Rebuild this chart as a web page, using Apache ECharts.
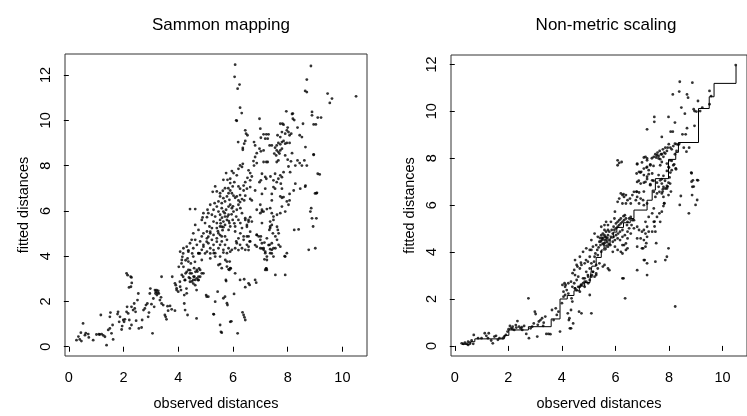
<!DOCTYPE html>
<html><head><meta charset="utf-8">
<script src="https://cdn.jsdelivr.net/npm/echarts@6/dist/echarts.min.js"></script>
<style>html,body{margin:0;padding:0;background:#fff}#c{width:747px;height:416px}</style>
</head><body><div id="c"></div>
<script>
// Sammon mapping: [observed distance, fitted distance]
const sammonLow = [[0.28,0.29],[0.40,0.32],[0.46,0.25],[0.52,1.03],[0.44,0.62],[0.59,0.51],[0.71,0.56],[0.73,0.41],[0.89,0.29],[1.01,0.54],[1.13,0.54],[1.17,1.4],[1.2,0.56],[1.26,0.5],[1.32,0.44],[1.38,0.07],[1.44,0.74],[1.5,0.81],[1.56,0.59],[1.62,0.32],[1.5,1.32],[1.52,1.51],[1.6,0.96],[1.78,1.44],[1.8,1.54],[1.84,1.1],[1.87,1.32],[1.93,0.76],[1.95,0.91],[1.99,1.18],[2.02,1.1],[2.05,1.21],[2.11,1.54],[2.13,1.76],[2.17,1.47],[2.21,1.18],[2.23,0.81],[2.29,0.96],[2.29,1.76],[2.35,1.62],[2.39,1.91],[2.41,1.69],[2.44,1.54],[2.46,1.15],[2.51,2.06],[2.54,2.35],[2.56,0.81],[2.66,0.85],[2.68,1.18],[2.73,1.62],[2.78,1.69],[2.82,1.84],[2.87,1.91],[2.9,1.32],[2.93,1.51],[2.96,2.35],[2.98,2.57],[3.02,1.88],[3.06,0.59],[3.09,2.13],[3.12,1.76],[3.15,2.5],[3.17,2.35],[3.18,2.43],[3.21,2.5],[3.22,2.28],[3.24,2.38],[3.27,2.47],[3.29,2.35],[3.33,2.06],[3.37,2.18],[3.39,3.09],[3.39,1.91],[3.45,1.84],[3.51,1.4],[3.54,1.32],[3.57,1.21],[3.61,1.79],[3.63,1.59],[3.76,1.65],[3.78,3.09],[3.88,1.59],[3.91,2.72],[3.94,2.5],[4.0,2.43],[4.02,3.53],[4.06,2.87],[4.1,2.5],[4.12,3.68],[4.15,3.97],[4.18,4.12],[4.18,3.09],[4.22,2.28],[4.22,1.91],[4.24,2.94],[4.27,3.24],[4.27,3.82],[4.3,2.57],[4.34,3.9],[4.34,1.4],[4.37,4.26],[4.39,3.06],[4.43,3.38],[4.43,2.87],[4.46,3.68],[4.49,3.24],[4.51,4.12],[4.55,2.79],[4.59,3.09],[4.61,3.75],[4.63,3.31],[4.67,1.25],[4.67,2.5],[4.73,2.94],[4.76,3.46],[4.79,4.12],[2.11,3.24],[2.15,3.16],[2.26,3.09],[2.29,3.06],[2.3,2.82],[2.27,2.65],[2.2,2.62],[0.35,0.45],[0.62,0.6],[1.1,0.55],[3.7,1.8],[4.25,1.62],[4.31,2.36]];
const sammonMid = [[4.62,2.72],[4.74,2.95],[4.8,3.09],[4.86,3.24],[4.43,3.02],[4.31,3.31],[4.13,3.17],[4.25,2.95],[4.37,3.39],[4.55,2.95],[4.68,3.39],[4.07,2.65],[3.88,2.8],[3.94,2.58],[4.19,3.53],[4.13,3.83],[4.37,3.76],[4.55,3.98],[4.74,4.12],[4.92,4.42],[5.04,4.64],[5.1,4.86],[5.17,5.08],[4.86,3.83],[4.98,4.12],[5.17,4.12],[5.29,4.27],[5.41,4.64],[5.53,4.93],[5.59,5.3],[5.04,2.21],[5.3,1.43],[5.35,1.99],[5.44,2.43],[5.53,0.96],[5.59,0.62],[5.56,0.66],[5.65,2.14],[5.71,2.21],[5.78,1.92],[5.8,1.84],[5.9,1.1],[5.94,1.12],[6.04,2.33],[6.17,0.59],[6.35,1.52],[6.39,1.4],[6.42,1.3],[6.45,1.18],[6.26,2.95],[6.41,2.98],[6.45,2.63],[6.57,2.8],[6.61,2.73],[6.81,2.95],[6.85,2.83],[7.55,3.17],[5.75,2.9],[6.08,3.24],[7.18,3.39],[7.24,3.39],[7.21,3.45],[5.02,2.28],[5.1,2.21],[4.43,3.24],[4.56,3.1],[4.62,2.95],[4.68,3.02],[4.74,3.1],[4.5,2.88],[4.7,3.32],[4.8,3.39],[4.58,3.47],[4.92,3.24],[5.17,3.9],[5.3,4.13],[5.35,3.98],[5.47,3.61],[5.53,3.98],[5.65,4.28],[5.59,3.47],[5.78,3.54],[5.88,3.76],[5.72,3.83],[5.9,3.47],[5.84,3.42],[5.78,4.13],[5.96,4.28],[6.08,4.35],[6.26,4.5],[6.39,4.72],[6.51,4.87],[6.61,4.65],[6.45,4.28],[6.57,4.42],[6.14,4.57],[6.87,4.94],[6.94,4.87],[7.0,4.72],[7.06,4.57],[7.12,4.35],[7.18,4.13],[7.24,3.98],[7.36,4.13],[7.42,4.28],[7.24,3.83],[7.55,4.35],[7.36,5.31],[7.33,5.16],[7.46,5.01],[7.55,4.87],[7.64,5.16],[7.67,5.01],[7.61,4.72],[7.91,3.98],[8.24,5.16],[8.4,5.18],[8.77,4.28],[9.01,4.35],[8.83,5.97],[8.89,5.67],[9.05,5.67],[8.93,5.31],[8.86,6.12],[6.87,6.05],[7.0,5.9],[7.06,5.97],[5.92,3.46],[5.87,3.39],[5.74,2.95],[5.78,3.76],[5.53,3.65],[6.2,4.27],[6.57,4.27],[6.81,4.49],[6.51,5.3],[6.57,5.52],[6.63,5.08],[6.45,5.6],[7.15,4.6],[7.06,4.34],[7.18,4.2],[7.15,3.86],[7.22,3.46],[7.3,4.49],[7.42,4.12],[7.48,3.98],[7.61,5.3],[7.89,4.0],[7.91,3.17],[5.29,1.44]];
const sammonCore = [[5.75,7.67],[5.65,7.37],[5.8,7.37],[5.9,7.23],[5.83,7.0],[5.71,7.0],[5.63,6.89],[5.53,6.78],[5.41,6.86],[5.35,7.08],[5.26,6.84],[5.53,6.64],[5.65,6.56],[5.78,6.64],[5.84,6.78],[5.87,6.49],[5.71,6.42],[5.59,6.34],[5.47,6.42],[5.41,6.19],[5.33,6.34],[5.17,6.27],[5.29,6.05],[5.47,5.97],[5.59,6.12],[5.65,5.97],[5.75,6.05],[5.84,6.19],[5.9,6.27],[5.07,6.05],[5.1,5.9],[4.92,5.9],[5.23,5.83],[5.35,5.75],[5.53,5.83],[5.71,5.75],[5.84,5.83],[5.53,5.6],[5.65,5.53],[5.78,5.6],[5.87,5.46],[5.41,5.46],[5.29,5.53],[4.86,5.6],[4.98,5.46],[5.14,5.31],[5.23,5.24],[5.41,5.24],[5.53,5.31],[5.65,5.28],[5.71,5.38],[5.84,5.16],[5.9,5.31],[4.62,5.38],[5.05,5.09],[4.92,5.01],[4.74,5.16],[4.55,5.01],[5.17,5.01],[5.29,4.94],[5.47,5.01],[5.59,4.87],[5.71,4.87],[5.78,4.72],[5.59,4.65],[5.41,4.79],[5.23,4.72],[5.05,4.79],[4.86,4.87],[4.8,4.65],[4.62,4.72],[4.49,4.72],[4.43,4.57],[4.68,4.5],[4.92,4.5],[5.1,4.57],[5.29,4.5],[5.53,4.5],[5.71,4.5],[5.84,4.35],[5.47,4.35],[5.17,4.35],[4.86,4.28],[4.55,4.35],[4.31,4.42],[4.19,4.35],[4.37,4.2],[4.74,4.13],[5.05,4.2],[5.35,4.13],[5.65,4.16],[5.9,4.2],[4.07,4.2],[4.43,6.08],[4.62,6.08],[4.89,5.71],[5.05,5.72],[5.96,6.12],[6.02,5.97],[6.14,6.05],[6.27,6.12],[6.2,6.27],[6.33,5.9],[6.12,5.75],[5.99,5.6],[6.2,5.6],[6.27,5.46],[6.08,5.31],[6.33,5.24],[6.45,5.68],[6.57,5.6],[6.63,5.72],[6.69,5.53],[6.51,5.38],[6.08,5.09],[6.27,5.01],[6.39,4.87],[6.57,4.87],[6.2,4.79],[6.12,4.65],[6.63,4.65],[7.0,6.27],[7.06,6.05],[7.12,5.97],[7.24,6.08],[7.36,6.12],[7.42,5.9],[7.48,5.75],[7.61,5.83],[7.73,5.9],[7.79,6.19],[7.91,5.97],[7.97,6.42],[8.03,6.27],[7.06,5.46],[7.36,5.53],[7.42,5.38],[7.48,5.6],[7.36,5.24],[6.87,4.94],[7.02,4.87],[7.24,4.79],[7.34,4.5],[7.42,4.57],[7.48,4.35],[7.67,4.5],[7.73,4.42],[6.33,4.35],[6.51,4.5],[6.87,4.42],[7.0,4.35],[7.12,4.28],[7.36,4.31],[7.97,4.13],[5.6,5.7],[5.7,5.9],[5.8,5.75],[5.95,5.85],[6.0,6.2],[5.55,5.45],[5.62,5.15],[5.45,5.1],[5.85,5.55],[6.05,5.45]];
const sammonHigh = [[6.08,12.46],[6.06,11.92],[6.24,11.58],[6.17,11.4],[6.26,10.56],[6.32,10.32],[6.12,10.0],[6.14,9.98],[8.85,12.4],[8.7,11.8],[8.64,11.3],[8.7,11.25],[9.46,11.18],[9.62,10.96],[9.54,10.77],[10.5,11.06],[8.89,10.37],[8.89,10.22],[9.1,10.12],[9.22,10.12],[8.95,9.82],[9.03,9.82],[8.19,10.3],[7.95,10.4],[8.19,10.07],[8.56,9.85],[6.97,10.07],[7.73,9.85],[7.81,9.85],[7.85,9.81],[8.0,9.68],[7.97,9.56],[7.91,9.41],[7.79,9.48],[7.63,9.34],[7.73,9.26],[8.03,9.48],[8.07,9.34],[8.13,9.41],[8.36,9.68],[8.44,9.34],[8.52,9.26],[7.0,9.63],[6.45,9.56],[6.48,9.41],[6.53,9.34],[7.12,9.38],[7.22,9.38],[7.3,9.38],[7.02,9.23],[7.18,9.19],[7.27,9.19],[6.19,9.04],[6.45,9.09],[6.41,8.97],[6.36,8.78],[6.36,8.7],[6.77,9.04],[6.81,8.89],[7.34,8.89],[7.42,8.89],[7.54,8.79],[7.6,8.89],[7.66,9.0],[7.73,8.94],[7.79,9.04],[7.85,9.09],[7.91,8.97],[7.97,9.0],[8.07,9.0],[7.6,8.67],[7.66,8.6],[7.73,8.67],[7.79,8.75],[7.7,8.53],[7.58,8.45],[7.51,8.53],[8.65,8.82],[8.95,8.5],[6.97,8.75],[7.02,8.63],[7.12,8.67],[6.87,8.55],[6.81,8.38],[6.75,8.2],[6.87,8.11],[6.77,8.0],[7.12,8.16],[7.22,8.16],[7.27,8.16],[7.6,8.16],[7.66,8.23],[7.91,8.45],[8.0,8.26],[8.16,8.55],[8.12,8.19],[8.36,8.23],[8.44,8.11],[8.28,8.0],[8.61,8.23],[8.52,8.0],[8.7,8.0],[9.1,7.64],[9.17,7.61],[9.07,6.8],[6.36,8.08],[6.33,7.94],[6.26,8.01],[6.2,7.86],[5.96,7.76],[6.02,7.67],[5.9,7.42],[6.57,7.79],[6.63,7.67],[6.69,7.52],[6.63,7.35],[6.53,7.46],[6.45,7.27],[6.39,7.12],[6.14,7.57],[6.05,7.27],[5.99,7.08],[6.2,7.08],[6.26,6.98],[6.39,6.9],[6.51,6.98],[6.63,7.05],[6.81,6.9],[6.97,7.27],[7.06,7.64],[7.02,7.35],[7.18,7.5],[7.22,7.42],[7.37,7.52],[7.48,7.35],[7.54,7.64],[7.66,7.42],[7.73,7.57],[7.79,7.49],[7.85,7.71],[8.03,7.96],[8.09,7.71],[7.6,7.27],[7.75,7.2],[7.48,7.05],[7.54,6.98],[7.18,6.98],[7.06,6.75],[7.42,6.75],[7.79,6.98],[7.73,6.64],[7.79,6.58],[7.85,6.61],[8.07,6.75],[8.22,6.9],[8.28,7.2],[8.46,6.98],[8.65,7.12],[5.9,6.9],[5.96,6.78],[6.02,6.67],[6.08,6.58],[6.14,6.64],[6.2,6.46],[6.33,6.52],[6.41,6.46],[6.26,6.39],[6.45,6.67],[6.63,6.53],[6.69,6.46],[7.42,6.46],[8.07,6.46],[9.05,6.78],[6.26,6.7],[8.95,8.47],[9.0,6.77],[8.64,7.07],[8.24,10.01],[8.16,10.28]];

// Non-metric scaling: [observed distance, fitted distance]
const nmdsLow = [[0.26,0.11],[0.32,0.09],[0.38,0.14],[0.44,0.09],[0.5,0.04],[0.5,0.18],[0.56,0.14],[0.63,0.23],[0.69,0.09],[0.71,0.47],[0.87,0.33],[1.0,0.33],[1.12,0.54],[1.18,0.43],[1.24,0.33],[1.27,0.54],[1.36,0.23],[1.42,0.11],[1.48,0.4],[1.54,0.43],[1.61,0.26],[1.67,0.33],[1.79,0.33],[1.85,0.4],[1.91,0.47],[1.97,0.61],[2.01,0.71],[2.06,0.85],[2.1,0.75],[2.16,0.82],[2.22,0.68],[2.28,0.89],[2.34,1.06],[2.4,0.82],[2.46,0.75],[2.52,0.68],[2.59,0.85],[2.67,0.51],[2.75,2.03],[2.77,0.33],[2.83,0.75],[2.89,0.82],[2.95,0.96],[2.99,1.46],[3.02,1.36],[3.08,0.4],[3.14,1.04],[3.2,1.1],[3.26,1.18],[3.32,0.99],[3.38,1.25],[3.42,0.51],[3.5,0.51],[3.57,0.5],[3.63,1.53],[3.69,1.1],[3.77,1.6],[3.81,1.32],[3.87,1.46],[3.93,0.61],[4.0,1.82],[4.06,2.1],[4.12,2.17],[4.14,2.6],[4.18,2.38],[4.22,1.39],[4.24,2.23],[4.26,1.1],[4.3,0.75],[4.34,1.53],[4.36,2.03],[4.39,1.89],[4.42,0.96],[4.46,2.67],[4.49,3.02],[4.55,2.81],[4.61,2.95],[4.64,1.46],[4.67,2.52],[4.73,1.39],[4.79,2.88],[4.85,2.74],[4.91,3.16],[4.98,2.67],[5.04,2.17],[5.1,1.39],[5.12,3.02],[5.16,3.16],[5.22,2.95],[5.28,3.09],[4.02,2.6],[4.12,2.52],[4.24,2.67],[4.34,2.74],[4.39,2.52],[4.55,2.38],[4.67,2.31],[4.73,2.6],[4.85,2.52],[4.98,2.95],[5.04,2.81],[4.49,2.45],[4.06,2.31],[2.15,0.72],[2.3,0.78],[2.5,0.8],[3.1,0.9],[3.3,0.85],[4.1,2.67],[4.4,3.1],[4.46,3.24],[4.58,3.38],[4.71,3.55],[4.34,0.75],[4.28,1.18],[6.36,2.03],[8.23,1.68],[6.3,2.88]];
const nmdsMid = [[5.53,4.79],[5.59,4.72],[5.53,4.58],[5.65,4.62],[5.72,4.72],[5.59,4.51],[5.69,4.44],[5.77,4.51],[5.83,4.65],[5.9,4.79],[5.96,4.94],[6.02,5.01],[6.08,5.08],[6.14,5.15],[6.2,5.22],[6.26,5.29],[6.32,5.36],[6.39,5.43],[6.45,5.29],[6.51,5.43],[6.57,5.5],[6.63,5.36],[6.2,5.43],[6.3,5.53],[6.35,5.57],[6.08,5.29],[6.14,5.36],[6.02,5.22],[5.93,5.08],[5.86,4.94],[5.77,4.87],[5.72,4.94],[5.65,4.87],[5.59,4.94],[5.47,4.72],[5.49,4.51],[5.56,4.37],[5.4,4.44],[5.44,4.3],[5.37,4.2],[5.32,4.09],[5.28,4.3],[5.25,3.94],[5.22,3.8],[5.34,3.87],[5.47,4.01],[5.59,4.16],[5.72,4.23],[5.81,4.3],[5.9,4.44],[5.98,4.51],[6.08,4.58],[6.17,4.51],[6.26,4.65],[6.35,4.72],[6.45,4.87],[6.51,5.01],[6.6,5.15],[6.69,5.36],[6.43,5.15],[6.26,4.94],[6.17,4.87],[6.1,4.79],[6.02,4.72],[5.93,4.65],[5.72,5.15],[5.59,5.15],[5.65,5.29],[5.96,5.43],[5.83,5.29],[5.1,4.09],[5.16,4.23],[5.04,3.8],[4.97,3.59],[5.1,3.52],[5.2,3.59],[5.28,3.45],[5.34,3.3],[5.4,3.52],[5.53,3.38],[5.59,3.45],[5.72,3.3],[5.77,3.23],[5.04,3.3],[5.16,3.16],[5.28,3.02],[5.1,2.95],[4.97,3.02],[4.85,2.88],[4.91,2.74],[4.79,2.67],[4.71,2.6],[4.61,2.52],[4.49,2.45],[5.04,4.09],[4.9,3.66],[4.85,3.52],[4.73,3.45],[4.67,3.3],[4.55,3.45],[4.49,3.66],[4.67,3.8],[4.79,4.01],[4.91,4.16],[5.98,4.23],[6.08,4.09],[6.2,4.01],[5.9,4.01],[6.26,4.3],[6.39,4.37],[6.45,4.16],[5.34,4.65],[5.22,4.79],[5.1,4.51],[5.47,5.08],[5.5,4.6],[5.62,4.4],[5.7,4.6],[5.45,4.45],[5.58,4.28],[5.66,4.52],[5.75,4.35],[5.52,4.35],[5.6,4.65],[5.42,4.6]];
const nmdsHigh = [[6.08,7.91],[6.14,7.8],[6.23,7.84],[6.08,7.7],[7.12,8.06],[7.18,7.99],[7.43,8.06],[7.55,8.13],[7.61,7.99],[7.7,8.17],[7.79,8.06],[7.86,8.2],[7.73,7.84],[7.67,7.7],[7.92,7.77],[7.98,7.63],[8.04,7.91],[8.1,7.49],[8.16,7.7],[6.81,7.77],[6.79,7.35],[6.88,7.42],[6.96,7.42],[7.06,7.56],[7.18,7.63],[7.24,7.49],[7.3,7.7],[7.37,7.35],[7.06,7.28],[7.18,7.21],[7.12,6.99],[6.94,6.92],[6.81,6.99],[7.37,7.06],[7.61,7.28],[7.67,7.06],[7.73,6.92],[7.79,6.78],[7.86,6.71],[7.61,6.78],[7.55,6.5],[7.64,6.57],[7.73,6.5],[7.79,6.35],[7.82,6.07],[7.92,6.71],[7.98,6.43],[8.04,6.92],[7.3,6.85],[7.43,6.57],[7.49,6.35],[6.2,6.5],[6.26,6.43],[6.32,6.35],[6.39,6.43],[6.14,6.28],[6.45,6.21],[6.54,6.28],[6.63,6.43],[6.69,6.57],[6.79,6.57],[6.81,6.35],[6.94,6.28],[7.03,6.21],[6.88,6.07],[6.76,6.21],[7.06,6.0],[7.18,6.07],[6.57,6.07],[6.39,6.07],[6.26,6.07],[6.08,6.14],[5.98,5.72],[7.43,5.86],[7.37,5.65],[7.24,5.5],[7.12,5.29],[7.18,5.08],[7.06,4.94],[6.99,4.87],[7.12,4.79],[7.24,4.87],[7.18,4.65],[7.37,4.87],[7.49,4.87],[7.43,5.29],[7.55,5.5],[7.67,5.29],[7.73,5.72],[7.79,5.96],[6.81,5.08],[6.88,4.94],[6.69,5.01],[6.57,4.79],[6.45,4.58],[6.81,4.58],[6.94,4.58],[7.06,4.51],[6.81,4.23],[6.99,4.16],[7.12,4.23],[6.26,3.94],[6.39,4.09],[6.32,4.3],[7.06,3.66],[7.18,3.52],[6.81,3.23],[7.18,3.02],[7.49,3.59],[7.86,3.66],[7.92,3.8],[7.98,4.16],[6.26,2.88],[7.15,4.38],[7.03,4.16],[7.09,3.66],[7.52,4.38],[7.46,5.3],[7.46,5.09],[7.64,5.65],[7.82,6.08],[7.76,6.58],[8.07,6.58],[7.95,6.79],[8.25,7.57],[8.84,7.36],[8.84,7.0],[9.05,7.07],[8.92,6.79],[8.86,6.43],[9.05,6.22],[8.99,6.01],[8.44,6.39],[8.4,6.01],[8.74,5.65],[6.3,6.47],[6.79,6.58],[6.88,6.54],[7.06,6.58],[7.18,9.23],[7.45,9.76],[7.45,9.55],[7.98,9.76],[7.73,8.91],[8.22,9.52],[8.06,9.13],[8.14,9.13],[8.5,9.02],[8.62,9.02],[8.67,9.28],[8.95,9.38],[8.4,11.26],[8.87,11.22],[8.14,10.72],[8.38,10.84],[8.67,10.72],[8.71,10.58],[8.59,9.9],[8.46,10.16],[9.08,10.44],[8.92,10.09],[8.95,10.01],[9.02,9.99],[9.24,10.16],[9.16,10.01],[9.51,10.87],[9.57,10.65],[9.51,10.3],[10.49,11.97],[6.81,7.74],[6.99,7.82],[7.06,8.03],[7.18,7.91],[7.16,7.6],[7.3,7.74],[7.36,8.0],[7.42,7.67],[7.49,8.17],[7.52,8.03],[7.57,8.24],[7.61,8.1],[7.65,8.31],[7.67,7.96],[7.73,8.17],[7.77,8.38],[7.82,8.24],[7.86,8.45],[7.92,8.31],[7.95,8.45],[7.99,8.6],[8.05,8.45],[8.1,8.38],[8.16,8.52],[8.22,8.62],[8.28,8.6],[8.35,8.57],[8.38,8.62],[8.28,8.31],[8.22,8.17],[8.19,7.74],[8.26,7.53],[8.1,7.89],[8.0,7.6],[7.92,7.46],[8.05,7.39],[7.98,6.96],[8.02,7.18],[7.79,7.25],[7.73,7.11],[7.85,7.04],[7.92,6.82],[7.77,6.68],[7.55,6.96],[7.42,7.04],[7.3,6.89],[7.24,7.32],[7.18,7.11],[6.93,7.39],[6.87,7.04],[7.06,6.96],[8.83,7.39],[8.89,7.06],[9.08,7.06],[8.87,6.78],[8.55,8.45],[8.65,8.28],[8.75,8.45]];

// isotonic regression step levels: [x where level starts, fitted level]
const nmdsStep = [[0.27,0.07],[0.6,0.18],[0.75,0.3],[1.85,0.45],[2.02,0.68],[2.75,0.82],[3.6,1.15],[3.93,2.0],[4.2,2.15],[4.45,2.35],[4.65,2.55],[4.85,2.7],[5.05,2.85],[5.12,3.4],[5.28,3.77],[5.47,4.09],[5.65,4.3],[5.8,4.6],[5.92,4.85],[6.05,5.05],[6.3,5.25],[6.55,5.43],[6.69,5.79],[7.18,6.21],[7.37,6.64],[7.49,7.13],[7.98,7.95],[8.25,8.25],[8.35,8.67],[9.1,10.12],[9.5,10.62],[9.68,11.19],[10.5,11.95]];

const xTicks = [0,2,4,6,8,10];
const yTicks = [0,2,4,6,8,10,12];

const FONT = "'Liberation Sans', Arial, sans-serif";
function xAx(gi, min, max){
  return {gridIndex:gi, type:'value', min:min, max:max,
    name:'observed distances', nameLocation:'middle', nameGap:40,
    nameTextStyle:{fontFamily:FONT, fontSize:14.5, color:'#000'},
    axisLine:{show:false}, splitLine:{show:false},
    axisTick:{show:true, length:5, customValues:xTicks, lineStyle:{color:'#000'}},
    axisLabel:{customValues:xTicks, fontFamily:FONT, fontSize:14.5, color:'#000', margin:14}};
}
function yAx(gi, min, max){
  return {gridIndex:gi, type:'value', min:min, max:max,
    name:'fitted distances', nameLocation:'middle', nameGap:34, nameRotate:90,
    nameTextStyle:{fontFamily:FONT, fontSize:14.5, color:'#000'},
    axisLine:{show:false}, splitLine:{show:false},
    axisTick:{show:true, length:5, customValues:yTicks, lineStyle:{color:'#000'}},
    axisLabel:{customValues:yTicks, rotate:90, fontFamily:FONT, fontSize:14.5, color:'#000', margin:12}};
}
const chart = echarts.init(document.getElementById('c'), null, {renderer:'canvas'});
chart.setOption({
  animation:false,
  backgroundColor:'#fff',
  title:[
    {text:'Sammon mapping', left:216, top:12, textAlign:'center', textStyle:{fontFamily:FONT, fontSize:17, fontWeight:'normal', color:'#000'}},
    {text:'Non-metric scaling', left:601, top:12, textAlign:'center', textStyle:{fontFamily:FONT, fontSize:17, fontWeight:'normal', color:'#000'}}
  ],
  grid:[
    {left:65, top:54, width:302, height:302, show:true, borderColor:'#333', borderWidth:1},
    {left:451, top:55, width:300.5, height:301, show:true, borderColor:'#333', borderWidth:1}
  ],
  xAxis:[xAx(0,-0.14,10.9), xAx(1,-0.14,10.91)],
  yAxis:[yAx(0,-0.41,12.93), yAx(1,-0.43,12.4)],
  series:[
    {type:'scatter', xAxisIndex:0, yAxisIndex:0, symbolSize:2.8, itemStyle:{color:'#000'}, data:[].concat(sammonLow, sammonMid, sammonCore, sammonHigh)},
    {type:'scatter', xAxisIndex:1, yAxisIndex:1, symbolSize:2.8, itemStyle:{color:'#000'}, data:[].concat(nmdsLow, nmdsMid, nmdsHigh)},
    {type:'line', xAxisIndex:1, yAxisIndex:1, step:'end', showSymbol:false, symbol:'none', lineStyle:{color:'#000', width:1}, data:nmdsStep}
  ]
});
</script></body></html>
